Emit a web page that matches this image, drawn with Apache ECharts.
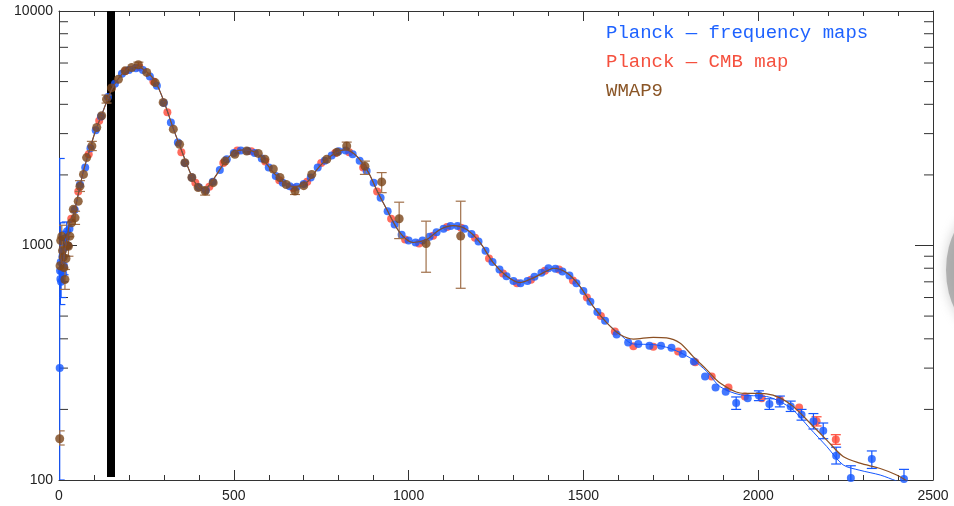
<!DOCTYPE html>
<html>
<head>
<meta charset="utf-8">
<script src="https://cdn.jsdelivr.net/npm/echarts@6/dist/echarts.min.js"></script>
<style>
  html, body { margin: 0; padding: 0; background: #fff; }
  #chart { width: 954px; height: 506px; }
</style>
</head>
<body>
<div id="chart"></div>
<script>
// theory curves (multipole l, D_l)
var thEll = [2, 5, 10, 17, 25, 31, 40, 46, 55, 70, 84, 98, 108, 122, 132, 150, 165, 189, 217, 241,
  260, 275, 298, 327, 346, 375, 395, 413, 441, 480, 508, 537, 575, 613, 651, 675, 708, 746, 785, 818,
  851, 885, 909, 937, 975, 1013, 1052, 1090, 1128, 1166, 1204, 1242, 1281, 1319, 1357, 1395, 1414, 1452, 1490, 1528,
  1567, 1605, 1643, 1700, 1738, 1776, 1814, 1853, 1891, 1948, 2024, 2062, 2100, 2148, 2196, 2243, 2291, 2349, 2396, 2430]
var thBlue = [1000, 880, 830, 960, 1120, 1260, 1330, 1430, 1650, 2080, 2450, 2880, 3190, 3600, 3950, 4600, 5030, 5550, 5830, 5650,
  5350, 5030, 4200, 3150, 2650, 2050, 1800, 1720, 1910, 2330, 2530, 2555, 2410, 2050, 1820, 1785, 1855, 2180, 2450, 2555,
  2410, 2050, 1720, 1430, 1135, 1030, 1060, 1170, 1215, 1170, 1030, 845, 740, 695, 728, 778, 800, 765, 670, 550,
  468, 417, 380, 378, 368, 350, 325, 290, 250, 231, 227, 216, 199, 166, 139, 116, 110, 105, 99, 95]
var thBrown = [1000, 880, 830, 960, 1120, 1260, 1330, 1430, 1650, 2080, 2450, 2880, 3190, 3600, 3950, 4600, 5030, 5550, 5830, 5650,
  5350, 5030, 4200, 3150, 2650, 2050, 1800, 1720, 1910, 2330, 2530, 2555, 2410, 2050, 1820, 1785, 1855, 2180, 2450, 2555,
  2410, 2050, 1720, 1430, 1135, 1030, 1060, 1170, 1215, 1170, 1030, 845, 740, 695, 728, 778, 800, 765, 670, 550,
  468, 417, 399, 406, 404, 384, 336, 295, 259, 235, 233, 224, 206, 175, 148, 126, 118, 112, 105, 98]

// Planck - frequency maps [l, D_l]
var freqPts = [[2,300],[3,780],[4,720],[5,850],[6,700],[8,770],[10,900],[12,760],[14,820],[17,980],[20,1080],[23,1150],[26,1000],
  [30,1180],[45,1420],[60,1820],[75,2150],[90,2600],[105,3100],[120,3550],[140,4300],[160,4900],[180,5400],[200,5600],
  [220,5700],[240,5600],[260,5250],[280,4800],[300,4050],[320,3350],[340,2750],[360,2250],[380,1950],[400,1770],
  [420,1720],[440,1870],[460,2100],[480,2330],[500,2480],[520,2540],[540,2530],[560,2480],[580,2350],[600,2150],
  [620,1980],[640,1850],[660,1790],[680,1780],[700,1830],[720,1950],[740,2150],[760,2300],[780,2420],[800,2520],
  [820,2540],[840,2450],[860,2300],[880,2080],[900,1850],[920,1600],[940,1400],[960,1230],[980,1110],[1000,1050],
  [1020,1030],[1040,1050],[1060,1090],[1080,1140],[1100,1180],[1120,1210],[1140,1210],[1160,1180],[1180,1120],
  [1200,1040],[1220,950],[1240,850],[1260,790],[1280,740],[1300,705],[1320,690],[1340,705],[1360,735],[1380,765],
  [1400,800],[1420,795],[1440,775],[1460,745],[1480,690],[1500,640],[1520,575],[1540,520],[1562,478],[1595,417],
  [1628,386],[1657,380],[1689,374],[1722,374],[1752,366],[1784,345],[1816,320],[1848,276],[1878,248],[1907,238],
  [1937,213],[1970,223],[2002,229],[2032,211],[2062,216],[2093,206],[2124,190],[2158,178],[2186,162],[2223,127],
  [2265,102],[2325,123],[2417,101]]
var freqBars = [[2,100,2350],[4,560,1250],[6,600,1100],[9,700,1000],[13,750,1050],[18,900,1150],[22,1000,1260],
  [1937,200,226],[2002,218,240],[2032,200,222],[2062,205,228],[2093,196,217],[2124,180,200],[2158,165,192],
  [2186,150,175],[2223,117,138],[2265,92,115],[2325,112,133],[2417,92,111]]

// Planck - CMB map [l, D_l]
var cmbPts = [[35,1300],[55,1700],[85,2450],[115,3400],[150,4650],[190,5550],[230,5750],[270,5000],[310,3700],
  [350,2500],[390,1850],[430,1780],[470,2250],[510,2540],[550,2520],[590,2280],[630,1900],[670,1760],[710,1870],
  [750,2250],[790,2480],[830,2500],[870,2150],[910,1700],[950,1300],[990,1060],[1030,1020],[1070,1100],[1110,1200],
  [1150,1190],[1190,1080],[1230,880],[1270,760],[1310,690],[1350,715],[1390,780],[1430,790],[1470,710],[1510,600],
  [1550,500],[1590,430],[1643,372],[1700,370],[1771,353],[1820,318],[1867,276],[1915,248],[1962,227],[2010,223],
  [2062,220],[2117,204],[2167,178],[2222,149]]
var cmbBars = [[2167,170,186],[2222,142,156]]

// WMAP9 [l, D_l]
var wmapPts = [[2,150],[3,820],[5,1050],[8,1096],[10,950],[12,890],[14,805],[17,716],[20,880],[24,1000],[27,993],
  [31,1096],[36,1250],[41,1426],[46,1312],[55,1545],[60,1791],[70,2010],[79,2371],[94,2655],[108,3184],[122,3575],
  [136,4208],[150,4700],[170,5119],[189,5555],[208,5741],[227,5897],[251,5470],[275,4950],[298,4075],[327,3135],
  [345,2700],[360,2255],[380,1950],[398,1767],[418,1708],[441,1854],[475,2290],[503,2450],[537,2530],[570,2470],
  [589,2333],[613,2120],[632,1950],[650,1820],[675,1708],[700,1800],[723,2010],[766,2333],[795,2500],[823,2655],
  [875,2180],[923,1867],[973,1300],[1050,1020],[1149,1097]]
var wmapBars = [[2,141,162],[8,980,1220],[12,800,990],[17,650,790],[27,900,1090],[46,1230,1400],[60,1700,1890],
  [94,2540,2780],[136,4050,4380],[227,5750,6050],[418,1640,1780],[675,1650,1780],
  [823,2550,2760],[875,2010,2290],[923,1680,2046],[973,1070,1530],[1050,769,1270],[1149,657,1545]]

var yMinor = [200, 300, 400, 500, 600, 700, 800, 900, 2000, 3000, 4000, 5000, 6000, 7000, 8000, 9000]
var cutEll = 149   // black vertical band
var names = ['Planck \u2014 frequency maps', 'Planck \u2014 CMB map', 'WMAP9']

var BLUE = '#1456ff', RED = '#ff4634', BROWN = '#7a4519', TAN = '#a0704a', AXIS = '#333'

function errBars(capW, color) {
    return function (params, api) {
        var l = api.value(0)
        var a = api.coord([l, api.value(2)])
        var b = api.coord([l, api.value(1)])
        var h = capW / 2
        var st = { stroke: color, lineWidth: 1.2 }
        return {
            type: 'group',
            children: [
                { type: 'line', shape: { x1: a[0], y1: a[1], x2: b[0], y2: b[1] }, style: st },
                { type: 'line', shape: { x1: a[0] - h, y1: a[1], x2: a[0] + h, y2: a[1] }, style: st },
                { type: 'line', shape: { x1: b[0] - h, y1: b[1], x2: b[0] + h, y2: b[1] }, style: st }
            ]
        }
    }
}

function pairs(xs, ys) { return xs.map(function (x, i) { return [x, ys[i]] }) }
function plain(v) { return String(Math.round(v)) }

var chart = echarts.init(document.getElementById('chart'))

var xAxisBase = {
    type: 'value', min: 0, max: 2500, interval: 500,
    axisLine: { show: true, onZero: false, lineStyle: { color: AXIS, width: 1 } },
    axisTick: { show: true, inside: true, length: 10, lineStyle: { color: AXIS } },
    minorTick: { show: true, splitNumber: 5, length: 5, lineStyle: { color: AXIS } },
    splitLine: { show: false }
}
var yAxisBase = {
    type: 'log', logBase: 10, min: 100, max: 10000,
    axisLine: { show: true, onZero: false, lineStyle: { color: AXIS, width: 1 } },
    axisTick: { show: true, inside: true, length: 18, lineStyle: { color: AXIS } },
    splitLine: { show: false }
}

chart.setOption({
    animation: false,
    backgroundColor: '#fff',
    grid: { left: 59, right: 21, top: 11, bottom: 26 },
    legend: {
        orient: 'vertical', left: 596, top: 18,
        itemWidth: 0, itemHeight: 0, itemGap: 9,
        selectedMode: false,
        textStyle: { fontFamily: 'Liberation Mono', fontSize: 19, lineHeight: 20 },
        data: [
            { name: names[0], textStyle: { color: '#1e62ff' } },
            { name: names[1], textStyle: { color: '#f5503e' } },
            { name: names[2], textStyle: { color: '#8a5526' } }
        ]
    },
    xAxis: [
        Object.assign({}, xAxisBase, {
            position: 'bottom',
            axisLabel: { show: true, margin: 9, color: '#222', fontFamily: 'Liberation Sans', fontSize: 14, formatter: plain }
        }),
        Object.assign({}, xAxisBase, { position: 'top', axisLabel: { show: false } })
    ],
    yAxis: [
        Object.assign({}, yAxisBase, {
            position: 'left',
            axisLabel: { show: true, margin: 6, color: '#222', fontFamily: 'Liberation Sans', fontSize: 14, formatter: plain }
        }),
        Object.assign({}, yAxisBase, { position: 'right', axisLabel: { show: false } })
    ],
    graphic: [{
        type: 'circle', x: 984, y: 270, scaleY: 1.6, silent: true,
        shape: { cx: 0, cy: 0, r: 38 },
        style: { fill: '#9a9a9a', shadowBlur: 12, shadowColor: '#bbb', opacity: 0.7 }
    }],
    series: [
        {   // minor log ticks on left and right axes
            type: 'custom', silent: true, z: 1,
            data: yMinor.map(function (v) { return [0, v] }),
            encode: { x: 0, y: 1 },
            renderItem: function (params, api) {
                var v = api.value(1)
                var l = api.coord([0, v]), r = api.coord([2500, v])
                var st = { stroke: AXIS, lineWidth: 1 }
                return { type: 'group', children: [
                    { type: 'line', shape: { x1: l[0], y1: l[1], x2: l[0] + 9, y2: l[1] }, style: st },
                    { type: 'line', shape: { x1: r[0] - 9, y1: r[1], x2: r[0], y2: r[1] }, style: st }
                ] }
            }
        },
        {
            type: 'custom', silent: true, clip: true, z: 2,
            data: cmbBars, encode: { x: 0, y: [1, 2] },
            renderItem: errBars(10, RED)
        },
        {
            name: names[1], type: 'scatter', z: 3,
            data: cmbPts, symbolSize: 8, itemStyle: { color: RED }
        },
        {
            type: 'custom', silent: true, clip: true, z: 4,
            data: freqBars, encode: { x: 0, y: [1, 2] },
            renderItem: errBars(10, BLUE)
        },
        {
            name: names[0], type: 'scatter', z: 5,
            data: freqPts, symbolSize: 8, itemStyle: { color: BLUE }
        },
        {
            type: 'custom', silent: true, clip: true, z: 6,
            data: wmapBars, encode: { x: 0, y: [1, 2] },
            renderItem: errBars(10, TAN)
        },
        {
            name: names[2], type: 'scatter', z: 7,
            data: wmapPts, symbolSize: 9, itemStyle: { color: BROWN }
        },
        {
            type: 'line', z: 8, silent: true,
            data: pairs(thEll, thBlue), smooth: 0.3, showSymbol: false,
            lineStyle: { color: BLUE, width: 1 }
        },
        {
            type: 'line', z: 9, silent: true,
            data: pairs(thEll, thBrown), smooth: 0.3, showSymbol: false,
            lineStyle: { color: '#8b4f22', width: 1.2 }
        },
        {
            type: 'line', z: 10, silent: true, data: [],
            markLine: {
                silent: true, symbol: ['none', 'none'], label: { show: false },
                lineStyle: { color: '#000', width: 8, type: 'solid' },
                data: [[{ coord: [cutEll, 10000] }, { coord: [cutEll, 103] }]]
            }
        }
    ]
})
</script>
</body>
</html>
